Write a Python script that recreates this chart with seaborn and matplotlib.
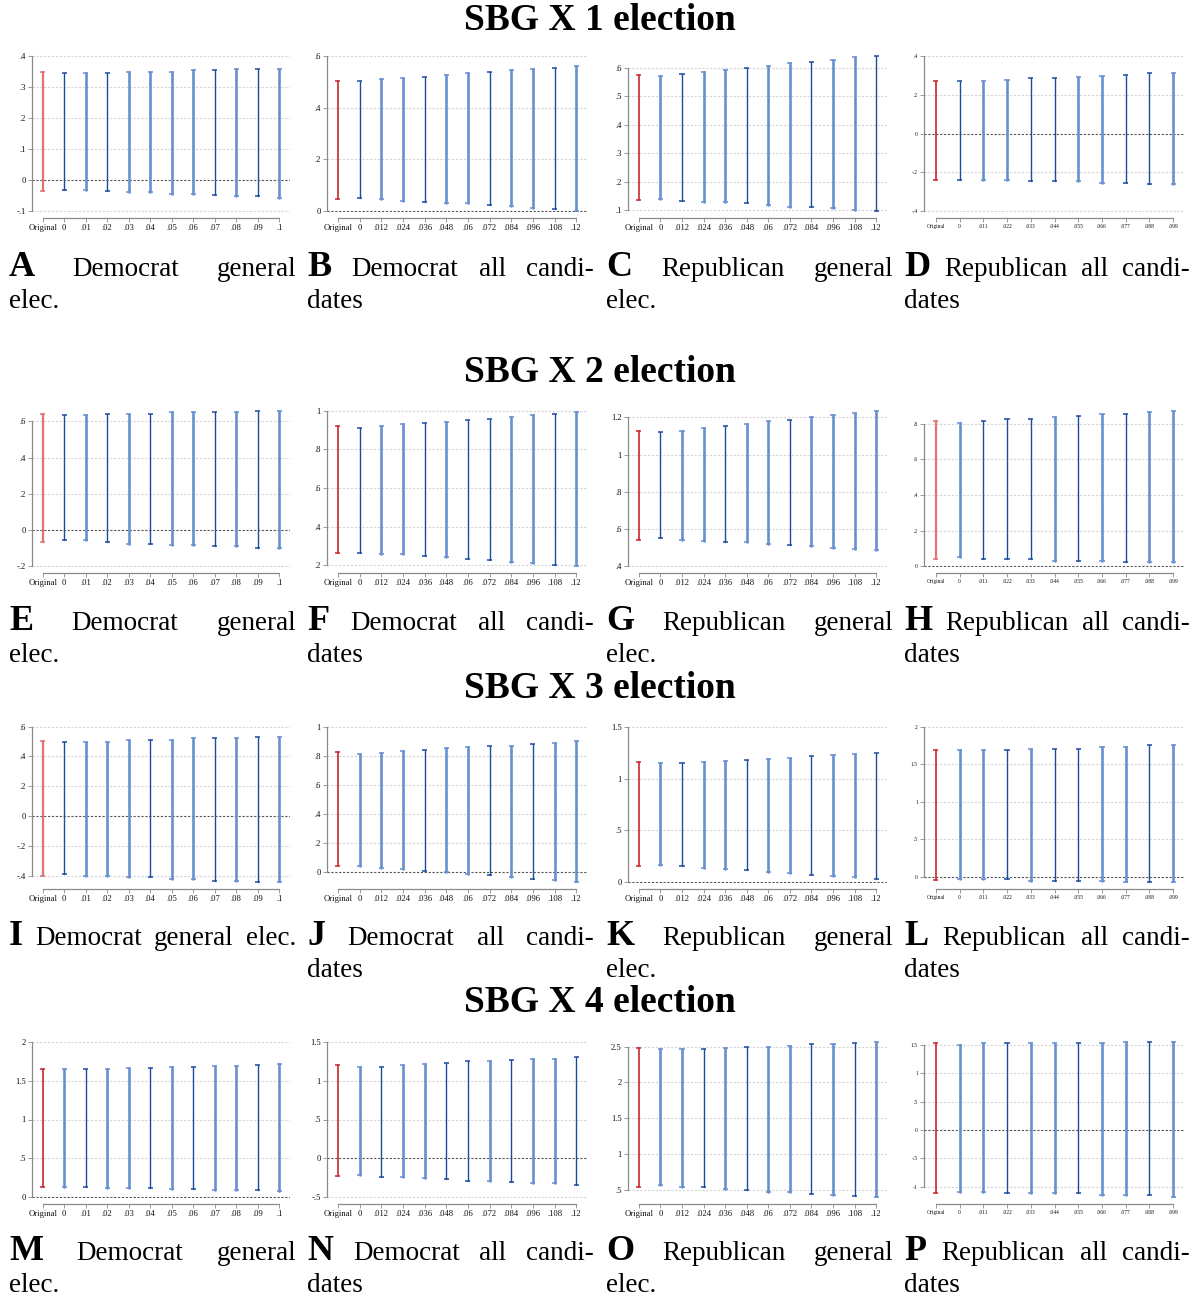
import numpy as np
import pandas as pd
import seaborn as sns
import matplotlib
matplotlib.use("Agg")
from matplotlib import pyplot as plt

# x categories (three kinds of grids)
cats_01 = ["Original", "0", ".01", ".02", ".03", ".04", ".05", ".06", ".07", ".08", ".09", ".1"]
cats_012 = ["Original", "0", ".012", ".024", ".036", ".048", ".06", ".072", ".084", ".096", ".108", ".12"]
cats_011 = ["Original", "0", ".011", ".022", ".033", ".044", ".055", ".066", ".077", ".088", ".099"]

# lower / upper ends of each interval
A_lo = [-.033, -.030, -.030, -.035, -.039, -.039, -.043, -.043, -.048, -.052, -.052, -.057]
A_hi = [.346, .344, .344, .344, .349, .349, .349, .354, .354, .357, .357, .357]
B_lo = [.047, .053, .047, .041, .036, .031, .031, .026, .021, .013, .008, .001]
B_hi = [.504, .504, .509, .514, .519, .527, .532, .538, .544, .549, .554, .559]
C_lo = [.134, .139, .132, .128, .128, .123, .118, .112, .112, .106, .100, .095]
C_hi = [.575, .573, .579, .584, .594, .600, .606, .616, .621, .627, .637, .643]
D_lo = [-.240, -.240, -.240, -.240, -.245, -.245, -.245, -.252, -.252, -.257, -.257]
D_hi = [.270, .270, .270, .275, .284, .284, .289, .295, .302, .309, .309]

E_lo = [-.063, -.057, -.057, -.066, -.076, -.076, -.083, -.083, -.090, -.090, -.099, -.099]
E_hi = [.639, .635, .635, .643, .643, .643, .652, .652, .652, .652, .659, .659]
F_lo = [.266, .266, .259, .259, .250, .243, .235, .226, .219, .210, .203, .195]
F_hi = [.921, .912, .921, .929, .934, .943, .950, .959, .967, .976, .983, .991]
G_lo = [.543, .550, .543, .536, .529, .529, .521, .514, .507, .500, .493, .486]
G_hi = [1.125, 1.121, 1.129, 1.143, 1.152, 1.164, 1.180, 1.186, 1.200, 1.214, 1.221, 1.236]
H_lo = [.044, .050, .039, .039, .039, .029, .029, .029, .022, .022, .022]
H_hi = [.815, .807, .817, .826, .826, .837, .846, .856, .856, .864, .874]

I_lo = [-.399, -.390, -.399, -.399, -.410, -.410, -.421, -.421, -.432, -.432, -.443, -.443]
I_hi = [.501, .499, .499, .499, .508, .508, .508, .521, .521, .521, .532, .532]
J_lo = [.040, .045, .030, .020, .010, .000, -.010, -.020, -.030, -.045, -.055, -.070]
J_hi = [.825, .815, .820, .830, .840, .850, .860, .865, .870, .880, .890, .900]
K_lo = [.155, .170, .155, .140, .130, .115, .100, .090, .075, .060, .050, .035]
K_hi = [1.155, 1.150, 1.150, 1.160, 1.170, 1.180, 1.190, 1.200, 1.220, 1.230, 1.240, 1.250]
L_lo = [-.035, -.026, -.026, -.026, -.048, -.048, -.048, -.048, -.070, -.070, -.070]
L_hi = [1.687, 1.687, 1.687, 1.687, 1.709, 1.709, 1.709, 1.730, 1.730, 1.752, 1.752]

M_lo = [.130, .135, .130, .125, .120, .115, .110, .105, .100, .095, .090, .085]
M_hi = [1.654, 1.650, 1.650, 1.650, 1.660, 1.665, 1.670, 1.680, 1.685, 1.690, 1.700, 1.710]
N_lo = [-.231, -.218, -.235, -.235, -.252, -.269, -.286, -.286, -.303, -.320, -.320, -.338]
N_hi = [1.197, 1.179, 1.179, 1.197, 1.214, 1.231, 1.248, 1.248, 1.265, 1.282, 1.282, 1.299]
O_lo = [.53, .56, .54, .53, .51, .49, .47, .46, .44, .43, .41, .39]
O_hi = [2.48, 2.46, 2.47, 2.47, 2.48, 2.49, 2.50, 2.51, 2.53, 2.54, 2.55, 2.57]
P_lo = [-1.121, -1.092, -1.092, -1.121, -1.121, -1.121, -1.121, -1.150, -1.150, -1.150, -1.190]
P_hi = [1.532, 1.497, 1.532, 1.532, 1.532, 1.532, 1.532, 1.532, 1.561, 1.561, 1.561]

# y ticks per panel
A_ticks = [-.1, 0, .1, .2, .3, .4]
B_ticks = [0, .2, .4, .6]
C_ticks = [.1, .2, .3, .4, .5, .6]
D_ticks = [-.4, -.2, 0, .2, .4]
E_ticks = [-.2, 0, .2, .4, .6]
F_ticks = [.2, .4, .6, .8, 1]
G_ticks = [.4, .6, .8, 1, 1.2]
H_ticks = [0, .2, .4, .6, .8]
I_ticks = [-.4, -.2, 0, .2, .4, .6]
J_ticks = [0, .2, .4, .6, .8, 1]
K_ticks = [0, .5, 1, 1.5]
L_ticks = [0, .5, 1, 1.5, 2]
M_ticks = [0, .5, 1, 1.5, 2]
N_ticks = [-.5, 0, .5, 1, 1.5]
O_ticks = [.5, 1, 1.5, 2, 2.5]
P_ticks = [-1, -.5, 0, .5, 1, 1.5]

# shade of each interval: r/R = original (light/dark red), d = dark blue, l = light blue
shades = {
    "A": "r" + "dldlllldldl", "B": "R" + "dlldlldlldl", "C": "R" + "ldlldlldlld", "D": "R" + "dllddllddl",
    "E": "r" + "dldldlldldl", "F": "R" + "dlldlddlldl", "G": "R" + "dlldlldllll", "H": "r" + "ldddldldll",
    "I": "r" + "dllldlldldl", "J": "R" + "llldlldldll", "K": "R" + "ldlldlldlld", "L": "R" + "lldlddlldl",
    "M": "R" + "ldlldldlldl", "N": "R" + "ldllddldlld", "O": "R" + "lldldlldldl", "P": "R" + "lldlldlldl",
}

captions = {
    "A": [["Democrat", "general"], ["elec."]],
    "B": [["Democrat", "all", "candi-"], ["dates"]],
    "C": [["Republican", "general"], ["elec."]],
    "D": [["Republican", "all", "candi-"], ["dates"]],
}
captions.update({"E": captions["A"], "F": captions["B"], "G": captions["C"], "H": captions["D"],
                 "I": [["Democrat", "general", "elec."]], "J": captions["B"], "K": captions["C"], "L": captions["D"],
                 "M": captions["A"], "N": captions["B"], "O": captions["C"], "P": captions["D"]})

panels = [
    ("A", cats_01, A_lo, A_hi, A_ticks), ("B", cats_012, B_lo, B_hi, B_ticks),
    ("C", cats_012, C_lo, C_hi, C_ticks), ("D", cats_011, D_lo, D_hi, D_ticks),
    ("E", cats_01, E_lo, E_hi, E_ticks), ("F", cats_012, F_lo, F_hi, F_ticks),
    ("G", cats_012, G_lo, G_hi, G_ticks), ("H", cats_011, H_lo, H_hi, H_ticks),
    ("I", cats_01, I_lo, I_hi, I_ticks), ("J", cats_012, J_lo, J_hi, J_ticks),
    ("K", cats_012, K_lo, K_hi, K_ticks), ("L", cats_011, L_lo, L_hi, L_ticks),
    ("M", cats_01, M_lo, M_hi, M_ticks), ("N", cats_012, N_lo, N_hi, N_ticks),
    ("O", cats_012, O_lo, O_hi, O_ticks), ("P", cats_011, P_lo, P_hi, P_ticks),
]
row_titles = ["SBG X 1 election", "SBG X 2 election", "SBG X 3 election", "SBG X 4 election"]

colors = {"d": "#1b4c9e", "l": "#6690cf", "r": "#e07373", "R": "#c9262c"}
widths = {"d": 1.0, "l": 1.9, "r": 1.6, "R": 1.2}

sns.set_theme(style="white")
plt.rcParams["font.family"] = ["Liberation Serif", "DejaVu Serif"]
plt.rcParams["text.color"] = "black"

W, H = 1199, 1297
fig = plt.figure(figsize=(W / 100, H / 100), dpi=100)
renderer = fig.canvas.get_renderer()

row_top = [55, 410, 726, 1041]
title_y = [20, 372, 688, 1003]
cap_base = [276, 630, 945, 1260]
col_left = [32, 327, 628, 924]
col_right = [290, 587, 887, 1185]
cap_x0 = [9, 307, 606, 904]
cap_x1 = [296, 594, 893, 1190]
ax_h = 157


def fmt(v):
    return f"{v:g}".replace("0.", ".")


def justify(items, x0, x1, y, fill=True):
    arts = [fig.text(0, 1 - y / H, t, ha="left", va="baseline", **kw) for t, kw in items]
    ws = [a.get_window_extent(renderer).width for a in arts]
    gap = (x1 - x0 - sum(ws)) / (len(arts) - 1) if (fill and len(arts) > 1) else 6
    x = x0
    for a, w in zip(arts, ws):
        a.set_x(x / W)
        x += w + gap


for k, (letter, cats, lo, hi, ticks) in enumerate(panels):
    r, c = divmod(k, 4)
    left, right, top = col_left[c], col_right[c], row_top[r]
    ax = fig.add_axes([left / W, 1 - (top + ax_h) / H, (right - left) / W, ax_h / H])

    n = len(cats)
    pos = np.arange(n)
    keys = list(shades[letter])
    df = pd.DataFrame({"pos": np.concatenate([pos, pos]),
                       "y": np.concatenate([lo, hi]),
                       "shade": keys + keys})

    for t in ticks:
        zero = abs(t) < 1e-9
        ax.axhline(t, color="#555555" if zero else "#d4d4d4", lw=0.8,
                   ls=(0, (2, 1.5)), zorder=0.5)

    sns.lineplot(data=df, x="pos", y="y", units="pos", estimator=None, sort=False,
                 hue="shade", palette=colors, size="shade", sizes=widths,
                 legend=False, ax=ax)
    sns.scatterplot(data=df, x="pos", y="y", hue="shade", palette=colors,
                    marker="_", s=14, linewidth=1.1, legend=False, ax=ax)

    lo_lim = min(ticks[0], min(lo))
    hi_lim = max(ticks[-1], max(hi))
    pad = (hi_lim - lo_lim) * 0.004
    ax.set_ylim(lo_lim - pad, hi_lim + pad)
    ax.set_xlim(-0.5, n - 0.5)

    small = n == 11
    fs = 4.0 if small else 6.2
    ax.set_xticks(pos, cats)
    ax.set_yticks(ticks, [fmt(t) for t in ticks])
    ax.tick_params(axis="both", length=3, width=0.6, color="#8a8a8a", pad=1.5,
                   labelsize=fs, labelcolor="#111111", left=True, bottom=True)
    ax.set_xlabel("")
    ax.set_ylabel("")

    sns.despine(ax=ax)
    for s in ["left", "bottom"]:
        ax.spines[s].set_color("#8a8a8a")
        ax.spines[s].set_linewidth(0.9)
    ax.spines["left"].set_bounds(ticks[0], ticks[-1])
    ax.spines["bottom"].set_bounds(0, n - 1)
    ax.spines["bottom"].set_position(("outward", 4))
    ax.patch.set_alpha(0)

    # caption under the panel
    lines = captions[letter]
    for li, words in enumerate(lines):
        items = [(w, dict(fontsize=19.5, color="black")) for w in words]
        if li == 0:
            items = [(letter, dict(fontsize=26, fontweight="bold", color="black"))] + items
        last = li == len(lines) - 1 and len(lines) > 1
        justify(items, cap_x0[c], cap_x1[c], cap_base[r] + 32 * li, fill=not last)

for r, t in enumerate(row_titles):
    fig.text(0.5, 1 - title_y[r] / H, t, ha="center", va="center",
             fontsize=27, fontweight="bold", color="black")

fig.savefig("out.png", dpi=100)
